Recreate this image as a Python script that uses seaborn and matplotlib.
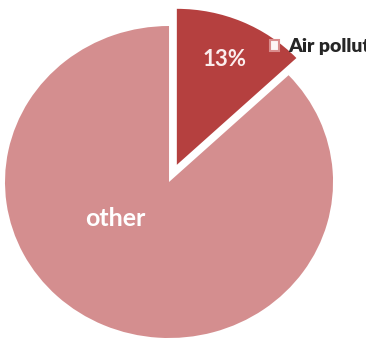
import matplotlib
matplotlib.use("Agg")
import matplotlib.pyplot as plt
import seaborn as sns

# Share of deaths by cause
categories = ["Air pollution", "other"]
shares = [13, 87]
slice_colors = ["#B5403F", "#D48E8F"]

sns.set_theme(style="white")
plt.rcParams["font.family"] = ["Lato", "DejaVu Sans"]

fig = plt.figure(figsize=(3.66, 3.40), dpi=100)
ax = fig.add_axes([0, 0, 1, 1])

wedges, texts, autotexts = ax.pie(
    shares,
    colors=slice_colors,
    startangle=90,
    counterclock=False,
    explode=[0.12, 0.0],
    autopct=lambda p: f"{p:.0f}%" if p < 50 else "",
    pctdistance=0.65,
    wedgeprops=dict(linewidth=0),
    textprops=dict(color="#FBEDED", fontsize=16, fontweight="bold"),
)

# Slightly wider than tall, as laid out in the page
ax.set_aspect("auto")
ax.set_xlim(-1.0305, 1.201)
ax.set_ylim(-1.0128, 1.1667)
ax.axis("off")

autotexts[0].set_position((0.341, 0.788))
ax.text(-0.329, -0.237, categories[1], color="white", fontsize=18,
        fontweight="bold", ha="center", va="center")

leg = ax.legend(
    [wedges[0]], [categories[0]],
    loc="center left", bbox_to_anchor=(0.737, 0.862),
    bbox_transform=fig.transFigure,
    frameon=False, handlelength=0.5, handleheight=0.55,
    handletextpad=0.45, borderpad=0, borderaxespad=0,
    prop=dict(weight="heavy", size=14),
)
for h in leg.legend_handles:
    h.set_facecolor("#FDF5F5")
    h.set_edgecolor("#D98C8C")
    h.set_linewidth(1.5)

fig.savefig("out.png", dpi=100)
